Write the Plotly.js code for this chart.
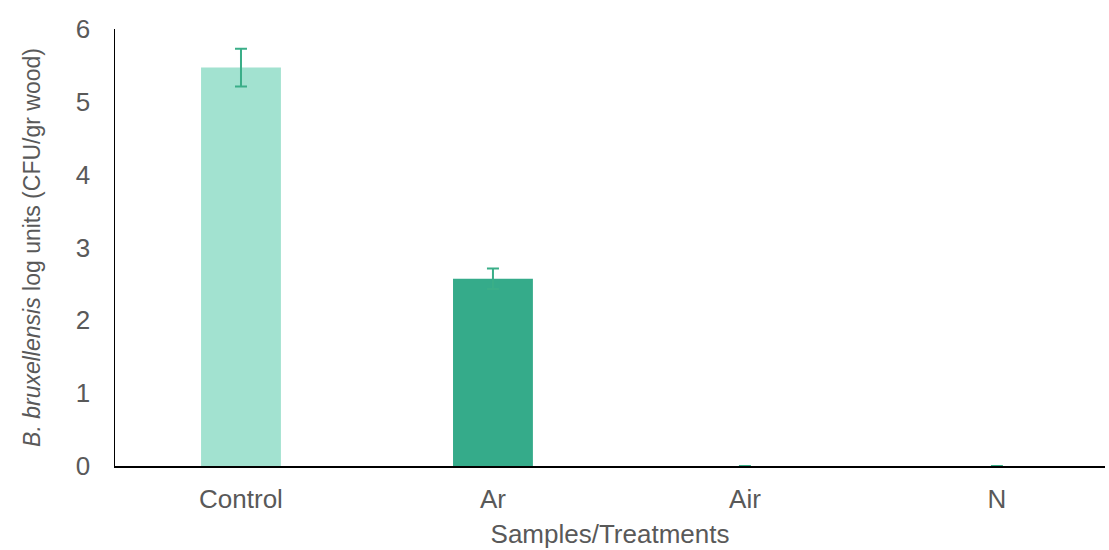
<!DOCTYPE html>
<html>
<head>
<meta charset="utf-8">
<script src="https://cdn.plot.ly/plotly-3.0.1.min.js"></script>
<style>html,body{margin:0;padding:0;background:#fff;}#chart{width:1109px;height:550px;}</style>
</head>
<body>
<div id="chart"></div>
<script>
const categories = ["Control", "Ar", "Air", "N"];
const values = [5.47, 2.57, 0, 0];
const errors = [0.26, 0.14, 0, 0];
const barColors = ["#a2e2d0", "#35ab8a", "#35ab8a", "#35ab8a"];
const yTicks = [0, 1, 2, 3, 4, 5, 6];

const trace = {
  type: "bar",
  x: categories,
  y: values,
  width: 0.317,
  marker: { color: barColors },
  error_y: { type: "data", array: errors, visible: true, color: "#3aae88", thickness: 2, width: 6 },
  hoverinfo: "x+y"
};

const layout = {
  width: 1109, height: 550,
  margin: { l: 115, r: 4, t: 29, b: 84 },
  paper_bgcolor: "#fff", plot_bgcolor: "#fff",
  showlegend: false,
  font: { family: "Liberation Sans, Arial, sans-serif", color: "#595959", size: 26 },
  xaxis: {
    range: [-0.5, 3.429],
    showline: true, linecolor: "#000", linewidth: 2,
    showgrid: false, zeroline: false,
    ticks: "outside", ticklen: 9, tickcolor: "rgba(0,0,0,0)",
    tickfont: { size: 26, color: "#595959" },
    title: { text: "Samples/Treatments", font: { size: 26, color: "#595959" }, standoff: 12 }
  },
  yaxis: {
    range: [0, 6], tickvals: yTicks,
    showline: true, linecolor: "#000", linewidth: 1.5,
    showgrid: false, zeroline: false,
    ticks: "outside", ticklen: 18, tickcolor: "rgba(0,0,0,0)",
    tickfont: { size: 26, color: "#595959" },
    title: { text: "<i>B. bruxellensis</i> log units (CFU/gr wood)", font: { size: 23, color: "#595959" }, standoff: 29 }
  }
};

Plotly.newPlot("chart", [trace], layout, { displayModeBar: false, staticPlot: true });
</script>
</body>
</html>
